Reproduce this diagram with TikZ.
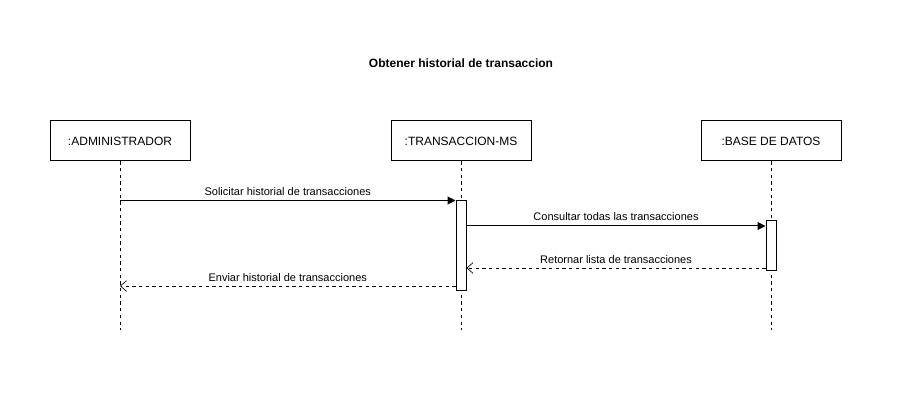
\documentclass[tikz,border=0pt]{standalone}
\usepackage{fontspec}
\setmainfont{Liberation Sans}
\usetikzlibrary{arrows.meta, positioning, calc}

\begin{document}
\begin{tikzpicture}[x=0.75pt, y=-0.75pt,
    actor/.style={draw, line width=0.75pt, minimum width=105pt,
                  minimum height=30pt, inner sep=0pt,
                  font=\fontsize{9}{11}\selectfont},
    lifeline/.style={line width=0.6pt, dash pattern=on 2.5pt off 2.5pt},
    actbox/.style={draw, fill=white, line width=0.75pt,
                   minimum width=7.5pt, inner sep=0pt},
    call/.style={line width=0.75pt, -{Triangle[length=6pt, width=6pt]}},
    reply/.style={line width=0.6pt, dash pattern=on 2.5pt off 2.5pt,
                  -{Straight Barb[length=4.5pt, width=8pt, line width=0.5pt]}},
    msg/.style={font=\fontsize{8.25}{10}\selectfont, above=0pt}
  ]
    \useasboundingbox (0,0) rectangle (909,402);
    \node[font=\bfseries\fontsize{9}{11}\selectfont] (title) at (461,63)
      {Obtener historial de transaccion};
    \node[actor] (admin) at (120,141) {:ADMINISTRADOR};
    \node[actor] (ms) at (461,141) {:TRANSACCION-MS};
    \node[actor] (db) at (771,141) {:BASE DE DATOS};
    \coordinate (adminend) at (120,330);
    \coordinate (msend) at (461,330);
    \coordinate (dbend) at (771,330);
    \draw[lifeline] (admin) -- (adminend);
    \draw[lifeline] (ms) -- (msend);
    \draw[lifeline] (db) -- (dbend);
    \node[actbox, minimum height=67.5pt] (msact) at (461,246) {};
    \node[actbox, minimum height=37.5pt] (dbact) at (771,246) {};
    \draw[call] (admin.south |- msact.north west) -- (msact.north west)
      node[msg, midway] {Solicitar historial de transacciones};
    \draw[call] (msact.east |- 0,226) -- (dbact.west |- 0,226)
      node[msg, midway] {Consultar todas las transacciones};
    \draw[reply] (dbact.west |- 0,268) -- (msact.east |- 0,268)
      node[msg, midway] {Retornar lista de transacciones};
    \draw[reply] (msact.west |- 0,286) -- (admin.south |- 0,286)
      node[msg, midway] {Enviar historial de transacciones};
\end{tikzpicture}
\end{document}
